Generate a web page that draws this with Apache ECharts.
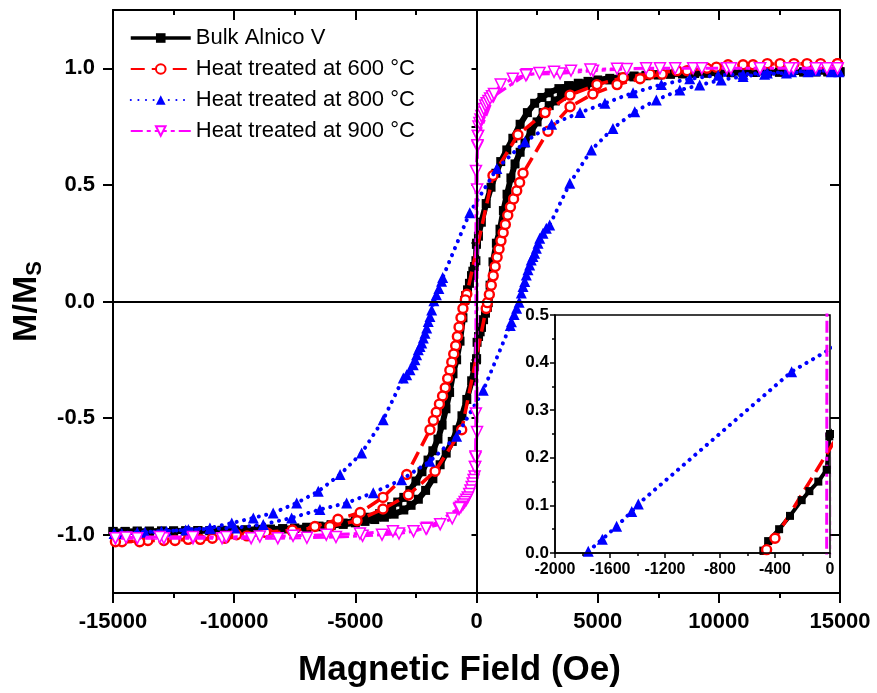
<!DOCTYPE html>
<html><head><meta charset="utf-8">
<script src="https://cdn.jsdelivr.net/npm/echarts/dist/echarts.min.js"></script>
<style>html,body{margin:0;padding:0;background:#fff}#c{width:877px;height:693px}</style>
</head><body><div id="c"></div>
<script>
// ---------- DATA ----------
const seriesNames = ['Bulk Alnico V', 'Heat treated at 600 °C', 'Heat treated at 800 °C', 'Heat treated at 900 °C'];

// Bulk Alnico V : descending branch (+H -> -H)
const bulkDescH = [15000,14500,14000,13500,13000,12500,12000,11500,11000,10500,10000,9500,9000,8500,8000,7500,7000,6500,6000,5500,5000,4600,4200,3800,3400,3000,2700,2400,2100,1800,1500,1250,1000,800,600,400,200,80,0,-5,-24,-85,-150,-206,-291,-370,-450,-485,-560,-680,-820,-970,-1110,-1260,-1420,-1590,-1800,-2000,-2250,-2500,-2750,-3000,-3250,-3500,-3750,-4000,-4500,-5000,-5500,-6000,-6500,-7000,-7500,-8000,-8500,-9000,-9500,-10000,-10500,-11000,-11500,-12000,-12500,-13000,-13500,-14000,-14500,-15000];
const bulkDescM = [0.985,0.985,0.985,0.984,0.984,0.983,0.983,0.982,0.982,0.981,0.98,0.979,0.978,0.976,0.975,0.972,0.97,0.967,0.962,0.957,0.95,0.944,0.936,0.926,0.913,0.895,0.875,0.85,0.81,0.76,0.70,0.65,0.60,0.55,0.49,0.42,0.34,0.28,0.25,0.245,0.175,0.15,0.13,0.111,0.078,0.05,0.025,0.005,-0.07,-0.17,-0.25,-0.31,-0.39,-0.46,-0.53,-0.59,-0.64,-0.68,-0.73,-0.77,-0.81,-0.84,-0.86,-0.88,-0.895,-0.91,-0.925,-0.94,-0.95,-0.957,-0.963,-0.968,-0.972,-0.975,-0.977,-0.979,-0.98,-0.981,-0.982,-0.983,-0.983,-0.984,-0.984,-0.985,-0.985,-0.985,-0.986,-0.986];
// Bulk Alnico V : ascending branch (-H -> +H)
const bulkAscH = [-15000,-14500,-14000,-13500,-13000,-12500,-12000,-11500,-11000,-10500,-10000,-9500,-9000,-8500,-8000,-7500,-7000,-6500,-6000,-5500,-5000,-4600,-4200,-3800,-3400,-3000,-2700,-2400,-2100,-1800,-1500,-1250,-1000,-800,-600,-400,-200,-80,0,5,24,85,150,206,291,370,450,485,560,680,820,970,1110,1260,1420,1590,1800,2000,2250,2500,2750,3000,3250,3500,3750,4000,4500,5000,5500,6000,6500,7000,7500,8000,8500,9000,9500,10000,10500,11000,11500,12000,12500,13000,13500,14000,14500,15000];
const bulkAscM = [-0.986,-0.986,-0.985,-0.985,-0.984,-0.984,-0.983,-0.982,-0.982,-0.981,-0.98,-0.979,-0.977,-0.976,-0.974,-0.972,-0.969,-0.966,-0.961,-0.956,-0.949,-0.943,-0.935,-0.925,-0.912,-0.894,-0.874,-0.848,-0.81,-0.76,-0.70,-0.65,-0.60,-0.55,-0.49,-0.42,-0.34,-0.28,-0.25,-0.245,-0.175,-0.15,-0.13,-0.111,-0.078,-0.05,-0.025,-0.005,0.07,0.17,0.25,0.31,0.39,0.46,0.53,0.59,0.64,0.68,0.73,0.77,0.81,0.84,0.86,0.88,0.895,0.91,0.926,0.94,0.95,0.957,0.963,0.968,0.972,0.975,0.977,0.979,0.98,0.981,0.982,0.983,0.983,0.984,0.984,0.985,0.985,0.985,0.985,0.985];

// 600 °C
const t600DescH = [14900,13640,12530,11410,10380,9510,8270,7160,6050,4970,3860,2830,1710,680,-400,-461,-560,-640,-720,-790,-860,-940,-1020,-1100,-1190,-1290,-1400,-1530,-1660,-1780,-1920,-2880,-3860,-4800,-5716,-6670,-7600,-8600,-9470,-10380,-11400,-12440,-13560,-14630];
const t600DescM = [1.02,1.02,1.02,1.015,1.015,1.0,0.99,0.975,0.96,0.93,0.885,0.81,0.715,0.54,0.031,0.007,-0.03,-0.07,-0.11,-0.15,-0.19,-0.225,-0.26,-0.295,-0.33,-0.37,-0.405,-0.44,-0.475,-0.51,-0.55,-0.742,-0.84,-0.905,-0.934,-0.965,-0.985,-0.995,-1.005,-1.015,-1.02,-1.025,-1.025,-1.03];
const t600AscH = [-14900,-13900,-12900,-11900,-10900,-9900,-8700,-7600,-6050,-4930,-3860,-2810,-1710,-610,400,450,530,610,690,770,850,930,1010,1100,1190,1290,1400,1530,1660,1780,1920,2950,3860,4800,5800,6750,7660,8690,9900,11000,12000,13100,14200,14900];
const t600AscM = [-1.03,-1.03,-1.025,-1.02,-1.015,-1.0,-0.99,-0.98,-0.965,-0.94,-0.89,-0.83,-0.728,-0.55,-0.03,-0.005,0.03,0.07,0.11,0.15,0.19,0.225,0.26,0.295,0.33,0.37,0.405,0.44,0.475,0.51,0.55,0.73,0.835,0.89,0.93,0.955,0.975,0.99,1.005,1.015,1.02,1.02,1.02,1.02];

// 800 °C
const t800DescH = [14950,14000,13000,12000,11000,9970,8800,7630,6460,5300,4270,3100,2000,840,-279,-1394,-1442,-1552,-1656,-1758,-1850,-1920,-1990,-2055,-2125,-2195,-2260,-2330,-2400,-2470,-2540,-2610,-2745,-2880,-3020,-3850,-4740,-5630,-6530,-7420,-8390,-9210,-10100,-11000,-11890,-12790,-13680,-14640,-14950];
const t800DescM = [0.99,0.99,0.985,0.98,0.975,0.97,0.955,0.93,0.895,0.85,0.81,0.76,0.685,0.57,0.381,0.103,0.087,0.056,0.029,0.0035,-0.036,-0.064,-0.086,-0.114,-0.136,-0.157,-0.178,-0.193,-0.207,-0.228,-0.25,-0.271,-0.293,-0.314,-0.328,-0.507,-0.65,-0.742,-0.814,-0.864,-0.907,-0.928,-0.95,-0.971,-0.978,-0.985,-0.99,-0.995,-0.995];
const t800AscH = [-14950,-14000,-13000,-12000,-11000,-9970,-8800,-7630,-6460,-5360,-4260,-3090,-1920,-820,279,1394,1442,1552,1656,1758,1850,1920,1990,2055,2125,2195,2260,2330,2400,2470,2540,2610,2745,2880,3020,3850,4740,5630,6530,7420,8390,9210,10100,11000,11890,12790,13680,14640,14950];
const t800AscM = [-0.995,-0.99,-0.985,-0.98,-0.975,-0.971,-0.956,-0.928,-0.892,-0.864,-0.82,-0.764,-0.685,-0.578,-0.381,-0.103,-0.087,-0.056,-0.029,-0.0035,0.036,0.064,0.086,0.114,0.136,0.157,0.178,0.193,0.207,0.228,0.25,0.271,0.293,0.314,0.328,0.507,0.65,0.742,0.814,0.864,0.907,0.928,0.95,0.965,0.975,0.98,0.985,0.985,0.985];

// 900 °C
const t900DescH = [14900,14460,13070,11700,10330,8940,7570,6200,4810,3450,2080,700,60,40,-22,-26,-40,-60,-80,-120,-160,-200,-250,-300,-360,-420,-490,-560,-640,-720,-1000,-1500,-2040,-2600,-3200,-3900,-4700,-5800,-7000,-8200,-9300,-10500,-11700,-12900,-14000,-14900];
const t900DescM = [1.0,1.0,1.0,1.0,1.0,1.0,1.0,0.997,0.99,0.978,0.975,0.88,0.71,0.665,0.56,-0.48,-0.67,-0.71,-0.75,-0.765,-0.78,-0.795,-0.81,-0.825,-0.84,-0.85,-0.86,-0.87,-0.88,-0.89,-0.93,-0.955,-0.97,-0.985,-0.995,-1.0,-1.005,-1.01,-1.013,-1.015,-1.015,-1.015,-1.015,-1.015,-1.015,-1.015];
const t900AscH = [-14900,-14460,-13070,-11700,-10330,-8940,-7570,-6200,-4810,-3450,-2080,-700,-60,-40,22,26,40,60,80,120,160,200,250,300,360,420,490,560,640,720,1000,1500,2040,2600,3200,3900,4700,5800,7000,8200,9300,10500,11700,12900,14000,14900];
const t900AscM = [-1.015,-1.012,-1.01,-1.01,-1.01,-1.008,-1.005,-1.0,-0.995,-0.985,-0.975,-0.885,-0.71,-0.665,-0.56,0.48,0.67,0.71,0.75,0.765,0.78,0.795,0.81,0.825,0.84,0.85,0.86,0.87,0.88,0.89,0.93,0.955,0.97,0.98,0.985,0.99,0.995,0.998,1.0,1.0,1.0,1.0,1.0,1.0,1.0,1.0];

// axis ticks / labels
const mainXRange = [-15000, 15000];
const mainXInterval = 5000;
const mainYRange = [-1.25, 1.25];
const mainYMajor = [-1.0, -0.5, 0.0, 0.5, 1.0];
const mainYMinor = [-1.25, -1.0, -0.75, -0.5, -0.25, 0, 0.25, 0.5, 0.75, 1.0, 1.25];
const insetXRange = [-2000, 0];
const insetXInterval = 400;
const insetYRange = [0, 0.5];
const insetYInterval = 0.1;

// ---------- BUILD ----------
function loop(dh, dm, ah, am) {
  const out = [];
  for (let i = 0; i < dh.length; i++) out.push([dh[i], dm[i]]);
  for (let i = 0; i < ah.length; i++) out.push([ah[i], am[i]]);
  return out;
}
const loops = [
  loop(bulkDescH, bulkDescM, bulkAscH, bulkAscM),
  loop(t600DescH, t600DescM, t600AscH, t600AscM),
  loop(t800DescH, t800DescM, t800AscH, t800AscM),
  loop(t900DescH, t900DescM, t900AscH, t900AscM)
];

const FF = 'Liberation Sans';
const styles = [
  { symbol: 'rect', symbolSize: 9, symbolRotate: 0,
    itemStyle: { color: '#000', borderWidth: 0 },
    lineStyle: { color: '#000', width: 6, type: 'solid' } },
  { symbol: 'circle', symbolSize: 9, symbolRotate: 0,
    itemStyle: { color: '#fff', borderColor: '#ff0000', borderWidth: 2.4 },
    lineStyle: { color: '#ff0000', width: 3.5, type: [14, 7] } },
  { symbol: 'triangle', symbolSize: 11, symbolRotate: 0,
    itemStyle: { color: '#0000ff', borderWidth: 0 },
    lineStyle: { color: '#0000ff', width: 4, type: [0.1, 7.5], cap: 'round' } },
  { symbol: 'triangle', symbolSize: 11, symbolRotate: 180,
    itemStyle: { color: '#fff', borderColor: '#ff00ff', borderWidth: 1.5 },
    lineStyle: { color: '#ff00ff', width: 3, type: [12, 4, 4, 4] } }
];

const series = [];
for (let k = 0; k < 4; k++) {
  const s = {
    type: 'line', name: seriesNames[k], data: loops[k],
    xAxisIndex: 0, yAxisIndex: 0, z: 2 + k * 0.01,
    showSymbol: true, symbol: styles[k].symbol, symbolSize: styles[k].symbolSize,
    symbolRotate: styles[k].symbolRotate,
    itemStyle: styles[k].itemStyle, lineStyle: styles[k].lineStyle,
    emphasis: { disabled: true }, animation: false, clip: true
  };
  if (k === 0) {
    s.markLine = {
      silent: true, symbol: 'none', animation: false,
      label: { show: false },
      lineStyle: { color: '#000', width: 2, type: 'solid' },
      data: [{ xAxis: 0 }, { yAxis: 0 }]
    };
  }
  series.push(s);
}
for (let k = 0; k < 4; k++) {
  series.push({
    type: 'line', name: seriesNames[k], data: loops[k],
    xAxisIndex: 2, yAxisIndex: 4, z: 12,
    showSymbol: true, symbol: styles[k].symbol, symbolSize: k === 0 ? 8 : styles[k].symbolSize,
    symbolRotate: styles[k].symbolRotate,
    itemStyle: styles[k].itemStyle,
    lineStyle: k === 0 ? { color: '#000', width: 4, type: 'solid' } : styles[k].lineStyle,
    emphasis: { disabled: true }, animation: false, clip: true
  });
}

const axLine = { show: true, onZero: false, lineStyle: { color: '#000', width: 2 } };
const lblBold = { color: '#000', fontFamily: FF, fontWeight: 'bold' };

const option = {
  animation: false,
  backgroundColor: '#fff',
  grid: [
    { left: 113, top: 10, width: 727, height: 583, show: false },
    { left: 555, top: 315, width: 275, height: 238, show: true, backgroundColor: '#fff',
      borderColor: '#000', borderWidth: 1.5, z: 10 }
  ],
  legend: {
    orient: 'vertical', left: 124, top: 22,
    itemWidth: 60, itemHeight: 12, itemGap: 9,
    data: [
      { name: seriesNames[0], lineStyle: { width: 3.5 } },
      { name: seriesNames[1] },
      { name: seriesNames[2] },
      { name: seriesNames[3] }
    ],
    textStyle: { fontSize: 22, fontFamily: FF, color: '#000', lineHeight: 22 }
  },
  xAxis: [
    { type: 'value', gridIndex: 0, position: 'bottom', min: mainXRange[0], max: mainXRange[1], interval: mainXInterval,
      axisLine: axLine, splitLine: { show: false },
      axisTick: { show: true, length: 10, lineStyle: { width: 2, color: '#000' } },
      minorTick: { show: true, splitNumber: 2, length: 5, lineStyle: { width: 2, color: '#000' } },
      axisLabel: Object.assign({ fontSize: 22, margin: 18, formatter: v => String(v) }, lblBold),
      name: 'Magnetic Field (Oe)', nameLocation: 'middle', nameGap: 60,
      nameTextStyle: { fontSize: 35, fontWeight: 'bold', fontFamily: FF, color: '#000', padding: [0, 34, 0, 0] } },
    { type: 'value', gridIndex: 0, position: 'top', min: mainXRange[0], max: mainXRange[1], interval: mainXInterval,
      axisLine: axLine, splitLine: { show: false },
      axisTick: { show: true, inside: true, length: 10, lineStyle: { width: 2, color: '#000' } },
      minorTick: { show: true, splitNumber: 2, length: 5, lineStyle: { width: 2, color: '#000' } },
      axisLabel: { show: false } },
    { type: 'value', gridIndex: 1, position: 'bottom', min: insetXRange[0], max: insetXRange[1], interval: insetXInterval, z: 13,
      axisLine: { show: true, onZero: false, lineStyle: { color: '#000', width: 1.5 } }, splitLine: { show: false },
      axisTick: { show: true, length: 5, lineStyle: { width: 1.5, color: '#000' } },
      minorTick: { show: true, splitNumber: 2, length: 3, lineStyle: { width: 1.5, color: '#000' } },
      axisLabel: Object.assign({ fontSize: 16, margin: 9, formatter: v => String(v) }, lblBold) }
  ],
  yAxis: [
    { type: 'value', gridIndex: 0, position: 'left', min: mainYRange[0], max: mainYRange[1],
      axisLine: axLine, splitLine: { show: false },
      axisTick: { show: true, length: 10, customValues: mainYMajor, lineStyle: { width: 2, color: '#000' } },
      axisLabel: Object.assign({ fontSize: 22, margin: 18, customValues: mainYMajor, formatter: v => v.toFixed(1) }, lblBold),
      name: '{a|M/M}{b|S}', nameLocation: 'middle', nameGap: 64, nameRotate: 90,
      nameTextStyle: { fontFamily: FF, color: '#000', rich: {
        a: { fontSize: 34, fontWeight: 'bold', fontFamily: FF, color: '#000', lineHeight: 34, verticalAlign: 'top' },
        b: { fontSize: 22, fontWeight: 'bold', fontFamily: FF, color: '#000', lineHeight: 22, verticalAlign: 'top', padding: [15, 0, 0, 0] } } } },
    { type: 'value', gridIndex: 0, position: 'left', min: mainYRange[0], max: mainYRange[1],
      axisLine: { show: false }, splitLine: { show: false },
      axisTick: { show: true, length: 5, customValues: mainYMinor, lineStyle: { width: 2, color: '#000' } },
      axisLabel: { show: false } },
    { type: 'value', gridIndex: 0, position: 'right', min: mainYRange[0], max: mainYRange[1],
      axisLine: axLine, splitLine: { show: false },
      axisTick: { show: true, inside: true, length: 10, customValues: mainYMajor, lineStyle: { width: 2, color: '#000' } },
      axisLabel: { show: false } },
    { type: 'value', gridIndex: 0, position: 'right', min: mainYRange[0], max: mainYRange[1],
      axisLine: { show: false }, splitLine: { show: false },
      axisTick: { show: true, inside: true, length: 5, customValues: mainYMinor, lineStyle: { width: 2, color: '#000' } },
      axisLabel: { show: false } },
    { type: 'value', gridIndex: 1, position: 'left', min: insetYRange[0], max: insetYRange[1], interval: insetYInterval, z: 13,
      axisLine: { show: true, onZero: false, lineStyle: { color: '#000', width: 1.5 } }, splitLine: { show: false },
      axisTick: { show: true, length: 5, lineStyle: { width: 1.5, color: '#000' } },
      minorTick: { show: true, splitNumber: 2, length: 3, lineStyle: { width: 1.5, color: '#000' } },
      axisLabel: Object.assign({ fontSize: 17, margin: 6, formatter: v => v.toFixed(1) }, lblBold) }
  ],
  series: series
};

const chart = echarts.init(document.getElementById('c'), null, { renderer: 'canvas' });
chart.setOption(option);
</script></body></html>
